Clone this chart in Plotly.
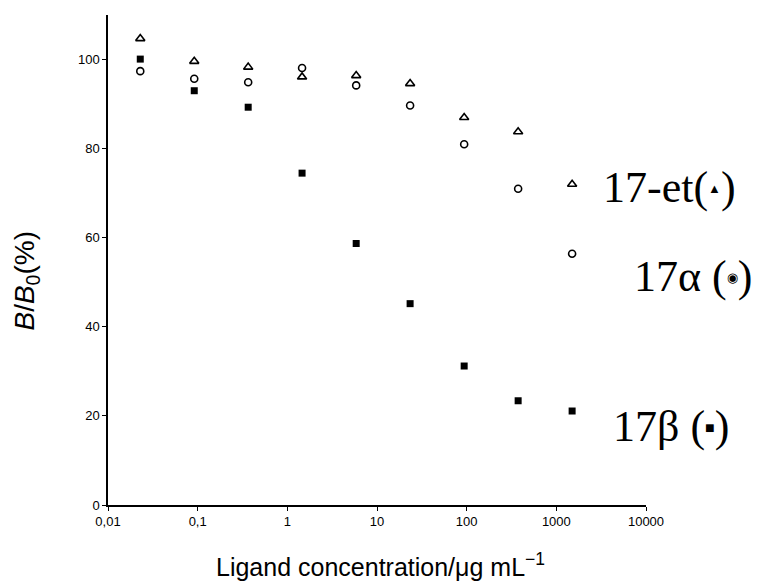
import plotly.graph_objects as go

conc = [0.0229, 0.0916, 0.366, 1.46, 5.86, 23.4, 93.8, 375, 1500]
et17 = [104.7, 99.6, 98.3, 96.1, 96.4, 94.6, 87.0, 83.8, 72.0]
alpha17 = [97.4, 95.7, 94.9, 98.1, 94.2, 89.7, 81.0, 71.0, 56.4]
beta17 = [100.1, 93.0, 89.3, 74.5, 58.7, 45.2, 31.2, 23.4, 21.1]

xtickvals = [0.01, 0.1, 1, 10, 100, 1000, 10000]
xticktext = ["0,01", "0,1", "1", "10", "100", "1000", "10000"]
ytickvals = [0, 20, 40, 60, 80, 100]

fig = go.Figure()
fig.add_trace(go.Scatter(x=conc, y=et17, mode="markers", name="17-et",
                         marker=dict(symbol="triangle-up-open", size=8, color="black",
                                     line=dict(width=1.6, color="black"))))
fig.add_trace(go.Scatter(x=conc, y=alpha17, mode="markers", name="17α",
                         marker=dict(symbol="circle-open", size=7, color="black",
                                     line=dict(width=1.6, color="black"))))
fig.add_trace(go.Scatter(x=conc, y=beta17, mode="markers", name="17β",
                         marker=dict(symbol="square", size=7, color="black",
                                     line=dict(width=0, color="black"))))

serif = dict(family="Liberation Serif, Times New Roman, serif", size=44, color="black")
sym = "<span style='font-size:{}px;baseline-shift:{}px'>{}</span>"
fig.add_annotation(text="17-et(" + sym.format(13, 9, "▲") + ")", xref="paper", yref="paper",
                   x=0.916, y=0.647, xanchor="left", yanchor="middle", showarrow=False, font=serif)
fig.add_annotation(text="17α (" + sym.format(13, 9, "◉") + ")", xref="paper", yref="paper",
                   x=0.974, y=0.467, xanchor="left", yanchor="middle", showarrow=False, font=serif)
fig.add_annotation(text="17β (" + sym.format(16, 8, "■") + ")", xref="paper", yref="paper",
                   x=0.935, y=0.160, xanchor="left", yanchor="middle", showarrow=False, font=serif)

fig.add_annotation(text="<i>B</i>/<i>B</i><sub>0</sub>(%)", xref="paper", yref="paper",
                   x=-0.1506, y=0.458, textangle=-90, showarrow=False,
                   font=dict(family="Liberation Sans, Arial, sans-serif", size=28, color="black"),
                   xanchor="center", yanchor="middle")
fig.add_annotation(text="Ligand concentration/μg mL<sup>−1</sup>", xref="paper", yref="paper",
                   x=0.5056, y=-0.1224, showarrow=False,
                   font=dict(family="Liberation Sans, Arial, sans-serif", size=25, color="black"),
                   xanchor="center", yanchor="middle")

fig.update_layout(
    width=758, height=575,
    margin=dict(l=100, r=120, t=7, b=78),
    paper_bgcolor="white", plot_bgcolor="white",
    showlegend=False,
    font=dict(family="Liberation Sans, Arial, sans-serif", size=13, color="black"),
)
fig.update_xaxes(type="log", range=[-2, 4], tickvals=xtickvals, ticktext=xticktext,
                 showgrid=False, zeroline=False, showline=True, linecolor="black", linewidth=1.5,
                 ticks="outside", ticklen=4, tickcolor="black", tickwidth=1,
                 tickfont=dict(size=13, color="black"))
fig.update_yaxes(range=[0, 110], tickvals=ytickvals,
                 showgrid=False, zeroline=False, showline=True, linecolor="black", linewidth=1.5,
                 ticks="outside", ticklen=4, tickcolor="black", tickwidth=1,
                 tickfont=dict(size=13, color="black"))

fig.write_html("out.html")
